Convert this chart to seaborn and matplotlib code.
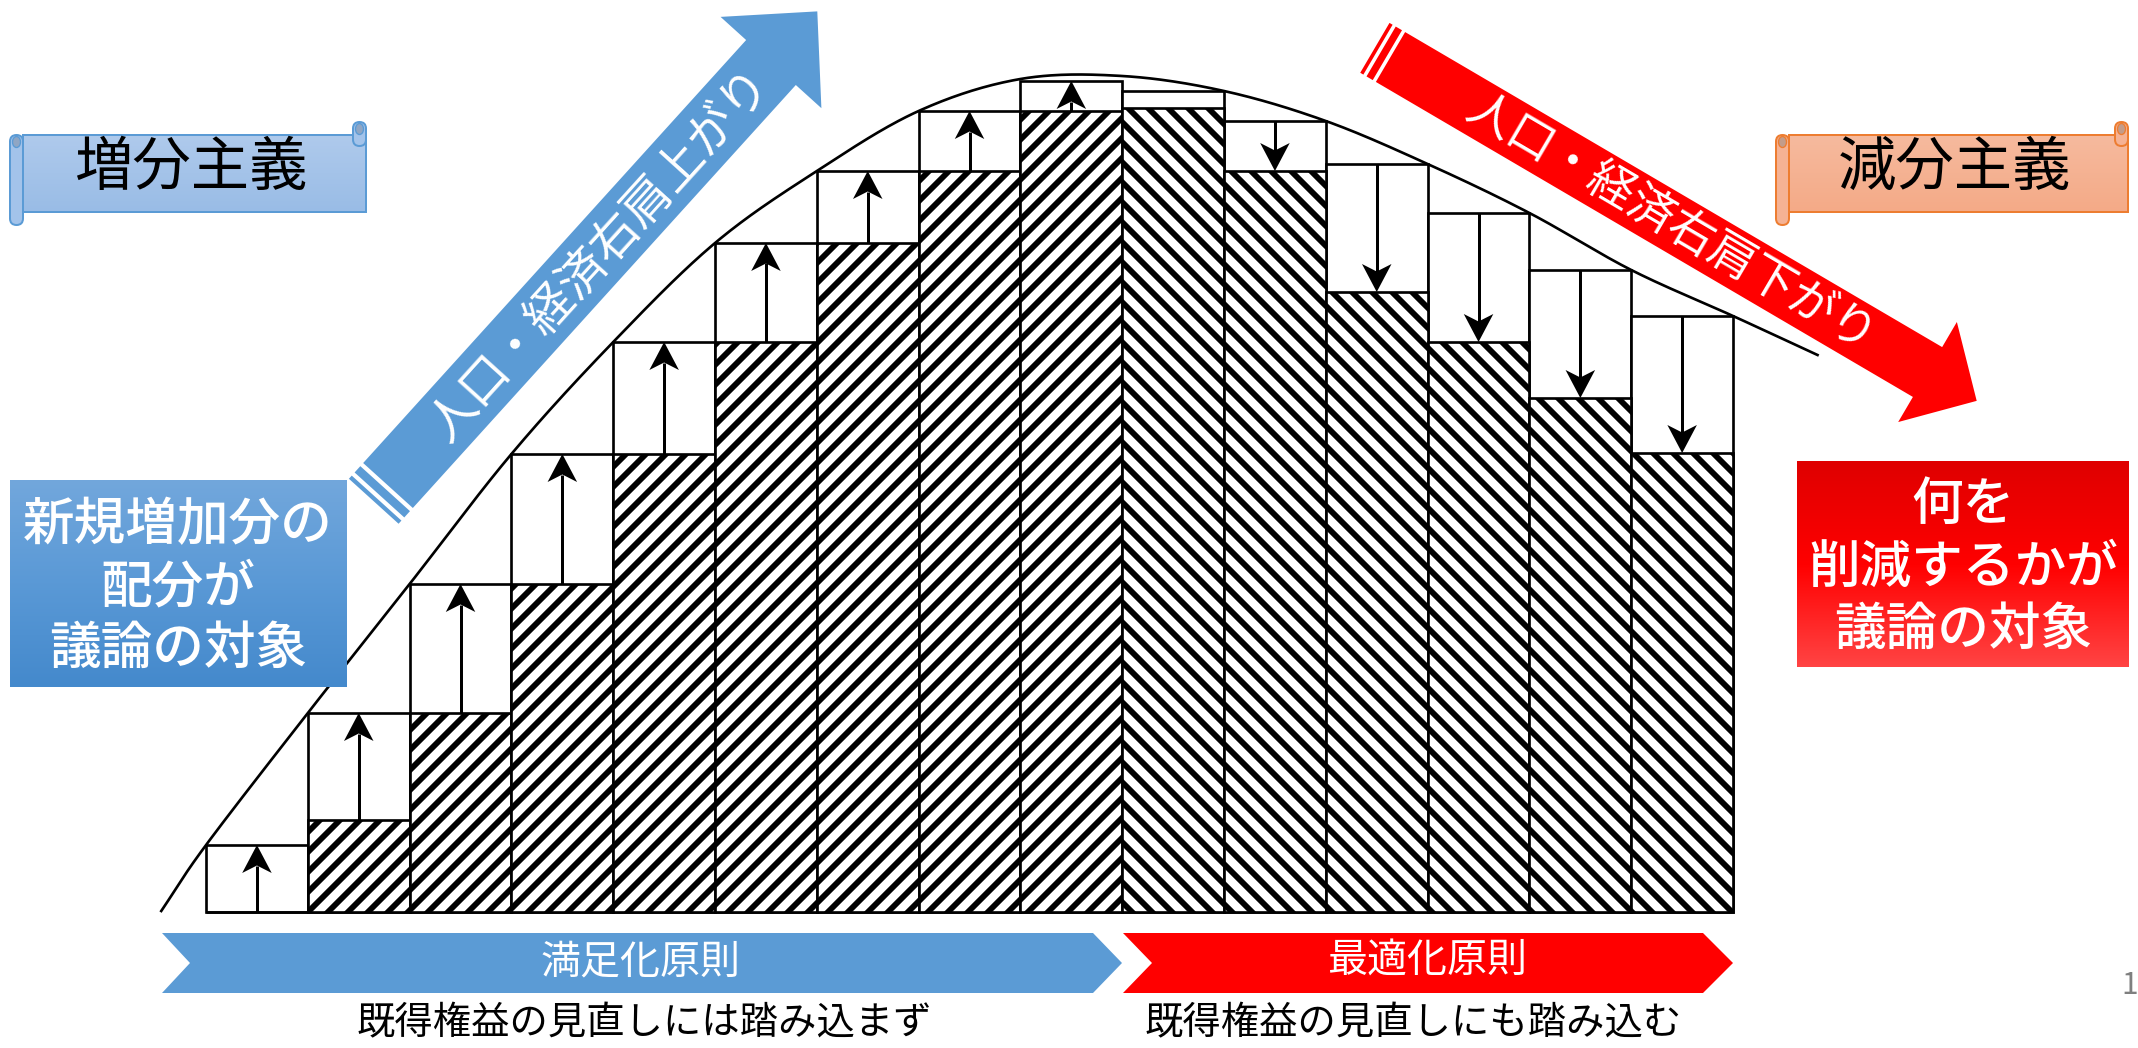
import numpy as np
import matplotlib
matplotlib.use("Agg")
import matplotlib.pyplot as plt
import seaborn as sns
from matplotlib.patches import Polygon, FancyBboxPatch, Ellipse, Rectangle
from matplotlib.colors import to_rgb

# ---------------- data ----------------
periods = [f"t{i}" for i in range(1, 16)]
hatched_level = [0.0, 9.2, 19.9, 32.8, 45.8, 57.0, 66.9, 74.1, 80.1, 80.4, 74.1, 62.0, 57.0, 51.4, 45.9]
white_level = [6.7, 19.9, 32.8, 45.8, 57.0, 66.9, 74.1, 80.1, 83.1, 82.1, 79.1, 74.8, 69.9, 64.2, 59.6]
phase = ["up"] * 9 + ["flat"] + ["down"] * 5
curve_x = [-0.94, -0.5, 0.5, 1.5, 2.5, 3.5, 4.5, 5.5, 6.5, 7.5, 8.5, 9.5, 10.5, 11.5, 12.5, 13.5, 14.5, 15.33]
curve_y = [0.1, 6.7, 19.9, 32.8, 45.8, 57.0, 66.9, 74.1, 80.1, 83.3, 83.6, 82.1, 79.1, 74.8, 69.9, 64.2, 59.6, 55.7]

label_up_scroll = "増分主義"
label_down_scroll = "減分主義"
label_up_ribbon = "人口・経済右肩上がり"
label_down_ribbon = "人口・経済右肩下がり"
label_up_box = ["新規増加分の", "配分が", "議論の対象"]
label_down_box = ["何を", "削減するかが", "議論の対象"]
label_up_principle = "満足化原則"
label_down_principle = "最適化原則"
label_up_note = "既得権益の見直しには踏み込まず"
label_down_note = "既得権益の見直しにも踏み込む"
page_no = "1"

# ---------------- setup ----------------
W, H, DPI = 2138, 1048, 120
HATCH_LW = 3.5
plt.rcParams["font.family"] = ["Noto Sans CJK JP", "DejaVu Sans"]
plt.rcParams["hatch.linewidth"] = HATCH_LW
plt.rcParams["hatch.color"] = "black"

fig = plt.figure(figsize=(W / DPI, H / DPI), dpi=DPI)
fig.patch.set_facecolor("white")
ax = fig.add_axes([0, 0, 1, 1])

# bars: full (white) level then hatched level on top
sns.barplot(x=periods, y=white_level, color="white", edgecolor="black", linewidth=1.6,
            width=1.0, errorbar=None, saturation=1, ax=ax, zorder=2)
sns.barplot(x=periods, y=hatched_level, color="white", edgecolor="black", linewidth=1.6,
            width=1.0, errorbar=None, saturation=1, ax=ax, zorder=3)
for patch, ph in zip(ax.containers[1], phase):
    patch.set_hatch("//" if ph == "up" else "\\\\")
    patch.set_edgecolor("black")
    if hasattr(patch, "set_hatch_linewidth"):
        patch.set_hatch_linewidth(HATCH_LW)
    patch._hatch_linewidth = HATCH_LW

# arrows inside white boxes
head_len, head_half, notch = 2.8, 0.145, 0.75
for i, (lo, hi, ph) in enumerate(zip(hatched_level, white_level, phase)):
    if ph == "flat":
        continue
    if ph == "up":
        tail, tip, s = lo, hi, 1
    else:
        tail, tip, s = hi, lo, -1
    ax.plot([i, i], [tail, tip - s * (head_len - notch)], color="black", lw=1.8,
            solid_capstyle="butt", zorder=4)
    ax.fill([i, i - head_half, i, i + head_half],
            [tip, tip - s * head_len, tip - s * (head_len - notch), tip - s * head_len],
            color="black", lw=0, zorder=4)

# smooth curve through the read points (Catmull-Rom)
def catmull_rom(xs, ys, n=40):
    P = np.column_stack([xs, ys]).astype(float)
    P = np.vstack([2 * P[0] - P[1], P, 2 * P[-1] - P[-2]])
    out = []
    t = np.linspace(0, 1, n, endpoint=False)[:, None]
    for k in range(1, len(P) - 2):
        p0, p1, p2, p3 = P[k - 1], P[k], P[k + 1], P[k + 2]
        seg = 0.5 * ((2 * p1) + (-p0 + p2) * t + (2 * p0 - 5 * p1 + 4 * p2 - p3) * t ** 2
                     + (-p0 + 3 * p1 - 3 * p2 + p3) * t ** 3)
        out.append(seg)
    out.append(P[-2][None, :])
    return np.vstack(out)

cv = catmull_rom(curve_x, curve_y)
ax.plot(cv[:, 0], cv[:, 1], color="black", lw=1.6, zorder=5)

ax.set_xlim(-2.524, 18.478)
ax.set_ylim(-13.6, 91.2)
ax.axis("off")

# ---------------- decorations (pixel space) ----------------
dx = fig.add_axes([0, 0, 1, 1])
dx.patch.set_alpha(0)


def grad_rect(x0, y0, x1, y1, colors, clip=None, z=2):
    n = 256
    cols = np.array([to_rgb(c) for c in colors])
    t = np.linspace(0, 1, n)
    stops = np.linspace(0, 1, len(cols))
    arr = np.stack([np.interp(t, stops, cols[:, k]) for k in range(3)], axis=1)[:, None, :]
    im = dx.imshow(arr, extent=(x0, x1, y1, y0), origin="upper", aspect="auto",
                   zorder=z, interpolation="bilinear")
    if clip is not None:
        im.set_clip_path(clip)
    return im


def ribbon(start, d, L, w, hl, hh, color):
    d = np.array(d, float)
    d = d / np.linalg.norm(d)
    nrm = np.array([-d[1], d[0]])
    st = np.array(start, float)

    def P(u, v):
        return st + u * d + v * nrm

    body = [P(0, -w / 2), P(L, -w / 2), P(L, -hh), P(L + hl, 0), P(L, hh), P(L, w / 2), P(0, w / 2)]
    dx.add_patch(Polygon(body, closed=True, facecolor=color, edgecolor="none", zorder=3))
    ss = 2 * hh
    for a, b in [(-5 * ss / 32, -4 * ss / 32), (-3 * ss / 32, -ss / 32)]:
        dx.add_patch(Polygon([P(a, -w / 2), P(b, -w / 2), P(b, w / 2), P(a, w / 2)],
                             closed=True, facecolor=color, edgecolor="none", zorder=3))


# blue rising ribbon
ribbon((388, 485.5), (383, -423), 570.6, 67, 69, 68, "#5B9BD5")
dx.text(600, 256, label_up_ribbon, color="white", fontsize=29, rotation=47.8,
        rotation_mode="anchor", ha="center", va="center", zorder=4)
# red falling ribbon
ribbon((1390.5, 57), (537, 315), 622.6, 57.8, 57, 58, "#FF0000")
dx.text(1671, 224, label_down_ribbon, color="white", fontsize=28, rotation=-30.4,
        rotation_mode="anchor", ha="center", va="center", zorder=4)


def scroll(bx0, bx1, by0, by1, top_c, bot_c, edge, roll_c, dark_c, text, tx, ty):
    rw = 13
    lr = FancyBboxPatch((bx0 - rw, by0), rw, (by1 - by0) + 13,
                        boxstyle="round,pad=0,rounding_size=6.5",
                        facecolor=roll_c, edgecolor=edge, lw=1.2, zorder=3)
    dx.add_patch(lr)
    body = Rectangle((bx0, by0), bx1 - bx0, by1 - by0, facecolor="none", edgecolor=edge,
                     lw=1.2, zorder=4)
    dx.add_patch(body)
    clip = Rectangle((bx0, by0), bx1 - bx0, by1 - by0, transform=dx.transData)
    grad_rect(bx0, by0, bx1, by1, [top_c, bot_c], clip=clip, z=3.5)
    rr = FancyBboxPatch((bx1 - rw, by0 - 13), rw, 24,
                        boxstyle="round,pad=0,rounding_size=6.5",
                        facecolor=roll_c, edgecolor=edge, lw=1.2, zorder=4.5)
    dx.add_patch(rr)
    dx.add_patch(Ellipse((bx1 - rw / 2, by0 - 6), 8, 11, facecolor=dark_c, edgecolor=edge,
                         lw=0.8, zorder=4.6))
    dx.add_patch(Ellipse((bx0 - rw / 2, by0 + 7), 8, 11, facecolor=dark_c, edgecolor=edge,
                         lw=0.8, zorder=4.6))
    dx.text(tx, ty, text, color="black", fontsize=35, ha="center", va="center", zorder=5)


scroll(23, 366, 135, 212, "#AFCAEC", "#99BCE6", "#5B9BD5", "#A3C3EA", "#8FA6C4",
       label_up_scroll, 191, 168)
scroll(1789, 2128, 135, 212, "#F6BA9E", "#F4AA87", "#ED7D31", "#F5B294", "#C39C8A",
       label_down_scroll, 1955, 168)

# gradient text boxes
grad_rect(10, 480, 347, 687, ["#72A7DC", "#5A99D6", "#4489CC"], z=3)
for line, yy in zip(label_up_box, [525, 587, 649]):
    dx.text(178, yy, line, color="white", fontsize=31, fontweight="medium",
            ha="center", va="center", zorder=4)
grad_rect(1797, 461, 2129, 667, ["#DF0000", "#FF0000", "#FF4444"], z=3)
for line, yy in zip(label_down_box, [505, 568, 630]):
    dx.text(1963, yy, line, color="white", fontsize=31, fontweight="medium",
            ha="center", va="center", zorder=4)

# chevrons
dx.add_patch(Polygon([(162, 933), (1093, 933), (1122, 963), (1093, 993), (162, 993), (190, 963)],
                     closed=True, facecolor="#5B9BD5", edgecolor="none", zorder=3))
dx.add_patch(Polygon([(1123, 933), (1703, 933), (1733, 963), (1703, 993), (1123, 993), (1152, 963)],
                     closed=True, facecolor="#FF0000", edgecolor="none", zorder=3))
dx.text(641, 962, label_up_principle, color="white", fontsize=24, ha="center", va="center", zorder=4)
dx.text(1427, 962, label_down_principle, color="white", fontsize=24, ha="center", va="center", zorder=4)

dx.text(644, 1024, label_up_note, color="black", fontsize=23, ha="center", va="center", zorder=4)
dx.text(1413, 1024, label_down_note, color="black", fontsize=23, ha="center", va="center", zorder=4)

dx.text(2121, 985, page_no, color="#7F7F7F", fontsize=18, ha="left", va="center", zorder=4)

dx.set_xlim(0, W)
dx.set_ylim(H, 0)
dx.axis("off")

fig.savefig("out.png", dpi=DPI, facecolor="white")
